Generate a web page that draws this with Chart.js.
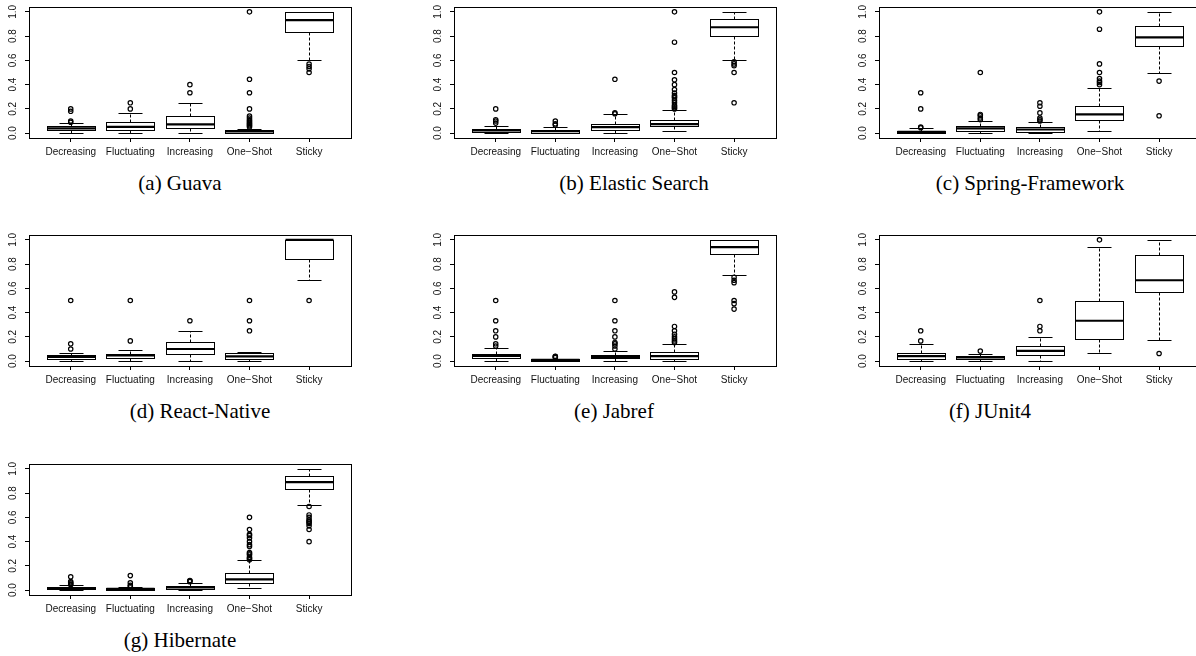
<!DOCTYPE html>
<html>
<head>
<meta charset="utf-8">
<script src="https://cdn.jsdelivr.net/npm/chart.js@4.4.1/dist/chart.umd.min.js"></script>
<style>
  html, body { margin: 0; padding: 0; background: #fff; }
  body { width: 1196px; height: 656px; position: relative; overflow: hidden; }
  canvas { position: absolute; }
  .caption {
    position: absolute;
    font: 21px "Liberation Serif", "Times New Roman", serif;
    line-height: 21px;
    white-space: nowrap;
    transform: translateX(-50%);
    color: #000;
  }
</style>
</head>
<body>
<script>
const categories = ['Decreasing', 'Fluctuating', 'Increasing', 'One\u2212Shot', 'Sticky'];
const yTicks = [0, 0.2, 0.4, 0.6, 0.8, 1.0];

// each row: [lower whisker, q1, median, q3, upper whisker]
const guavaStats = [
  [0.005, 0.025, 0.039, 0.055, 0.083],
  [0.005, 0.025, 0.052, 0.088, 0.165],
  [0.005, 0.039, 0.072, 0.14, 0.25],
  [0, 0.005, 0.014, 0.028, 0.036],
  [0.6, 0.832, 0.931, 1.0, 1.0]
];
const guavaOutliers = [
  [0.09, 0.1, 0.18, 0.2],
  [0.2, 0.25],
  [0.333, 0.4],
  [0.05, 0.06, 0.07, 0.08, 0.09, 0.1, 0.11, 0.125, 0.14, 0.2, 0.333, 0.444, 1.0],
  [0.5, 0.53, 0.55, 0.57]
];

const elasticStats = [
  [0, 0.011, 0.022, 0.036, 0.063],
  [0, 0.005, 0.016, 0.03, 0.053],
  [0.003, 0.022, 0.05, 0.077, 0.154],
  [0.014, 0.055, 0.074, 0.11, 0.187],
  [0.6, 0.8, 0.873, 0.937, 1.0]
];
const elasticOutliers = [
  [0.083, 0.1, 0.111, 0.2],
  [0.067, 0.077, 0.1],
  [0.16, 0.167, 0.444],
  [0.2, 0.21, 0.22, 0.23, 0.25, 0.27, 0.29, 0.3, 0.31, 0.33, 0.36, 0.4, 0.44, 0.5, 0.75, 1.0],
  [0.25, 0.5, 0.556, 0.571, 0.588]
];

const springStats = [
  [0, 0.003, 0.011, 0.019, 0.041],
  [0, 0.019, 0.039, 0.055, 0.1],
  [0, 0.011, 0.03, 0.05, 0.09],
  [0.017, 0.11, 0.154, 0.223, 0.375],
  [0.5, 0.716, 0.79, 0.88, 1.0]
];
const springOutliers = [
  [0.044, 0.05, 0.2, 0.333],
  [0.111, 0.125, 0.143, 0.154, 0.5],
  [0.1, 0.111, 0.125, 0.167, 0.222, 0.25],
  [0.4, 0.417, 0.429, 0.45, 0.5, 0.571, 0.857, 1.0],
  [0.143, 0.429]
];

const reactStats = [
  [0.005, 0.016, 0.036, 0.052, 0.071],
  [0.005, 0.03, 0.047, 0.063, 0.093],
  [0.005, 0.055, 0.1, 0.157, 0.25],
  [0.005, 0.016, 0.04, 0.071, 0.077],
  [0.667, 0.846, 1.0, 1.0, 1.0]
];
const reactOutliers = [
  [0.1, 0.143, 0.5],
  [0.167, 0.5],
  [0.333],
  [0.25, 0.333, 0.5],
  [0.5]
];

const jabrefStats = [
  [0.003, 0.022, 0.044, 0.063, 0.111],
  [0, 0.005, 0.011, 0.016, 0.02],
  [0.003, 0.022, 0.036, 0.052, 0.087],
  [0.003, 0.019, 0.041, 0.074, 0.143],
  [0.714, 0.885, 0.94, 1.0, 1.0]
];
const jabrefOutliers = [
  [0.125, 0.143, 0.2, 0.25, 0.333, 0.5],
  [0.03, 0.037, 0.041],
  [0.1, 0.125, 0.143, 0.154, 0.2, 0.25, 0.333, 0.5],
  [0.154, 0.167, 0.182, 0.2, 0.222, 0.25, 0.286, 0.526, 0.571],
  [0.429, 0.474, 0.5, 0.647, 0.667, 0.692]
];

const junitStats = [
  [0.005, 0.014, 0.041, 0.066, 0.143],
  [0.005, 0.014, 0.03, 0.044, 0.062],
  [0.005, 0.047, 0.085, 0.124, 0.2],
  [0.067, 0.183, 0.333, 0.5, 0.94],
  [0.176, 0.569, 0.667, 0.876, 1.0]
];
const junitOutliers = [
  [0.167, 0.25],
  [0.083],
  [0.25, 0.286, 0.5],
  [1.0],
  [0.063]
];

const hibernateStats = [
  [0, 0.006, 0.017, 0.028, 0.04],
  [0, 0.003, 0.011, 0.02, 0.025],
  [0, 0.008, 0.022, 0.036, 0.06],
  [0.014, 0.063, 0.088, 0.14, 0.245],
  [0.7, 0.837, 0.89, 0.94, 1.0]
];
const hibernateOutliers = [
  [0.045, 0.05, 0.06, 0.07, 0.11],
  [0.03, 0.04, 0.06, 0.12],
  [0.07, 0.075, 0.08],
  [0.25, 0.26, 0.27, 0.29, 0.3, 0.31, 0.36, 0.375, 0.4, 0.43, 0.45, 0.46, 0.5, 0.6],
  [0.4, 0.5, 0.53, 0.55, 0.56, 0.57, 0.58, 0.6, 0.62, 0.69]
];

// plot box position (left, top) of each panel, and caption centre / baseline
const panels = [
  {stats: guavaStats, outliers: guavaOutliers, caption: '(a) Guava', left: 29, top: 7, capX: 180, capY: 190},
  {stats: elasticStats, outliers: elasticOutliers, caption: '(b) Elastic Search', left: 454, top: 7, capX: 634, capY: 190},
  {stats: springStats, outliers: springOutliers, caption: '(c) Spring-Framework', left: 879, top: 7, capX: 1030, capY: 190},
  {stats: reactStats, outliers: reactOutliers, caption: '(d) React-Native', left: 29, top: 235, capX: 200, capY: 418},
  {stats: jabrefStats, outliers: jabrefOutliers, caption: '(e) Jabref', left: 454, top: 235, capX: 614, capY: 418},
  {stats: junitStats, outliers: junitOutliers, caption: '(f) JUnit4', left: 879, top: 235, capX: 990, capY: 418},
  {stats: hibernateStats, outliers: hibernateOutliers, caption: '(g) Hibernate', left: 29, top: 464, capX: 180, capY: 647}
];

const crisp = v => Math.round(v) + 0.5;

// draws the boxes, whiskers and staples from the stats through the chart scales
const boxPlugin = {
  id: 'boxes',
  beforeDatasetsDraw(chart, args, opts) {
    const {ctx, scales: {x, y}} = chart;
    const py = v => crisp(y.getPixelForValue(v));
    ctx.save();
    ctx.strokeStyle = '#000';
    opts.stats.forEach(([lo, q1, med, q3, hi], i) => {
      const cx = crisp(x.getPixelForValue(i + 1));
      const hw = Math.round(x.getPixelForValue(i + 1.4) - x.getPixelForValue(i + 1));
      const sw = Math.round(hw / 2);

      ctx.lineWidth = 1;
      ctx.setLineDash([3, 2]);
      ctx.beginPath();
      ctx.moveTo(cx, py(q3)); ctx.lineTo(cx, py(hi));
      ctx.moveTo(cx, py(q1)); ctx.lineTo(cx, py(lo));
      ctx.stroke();
      ctx.setLineDash([]);

      ctx.beginPath();
      ctx.moveTo(cx - sw, py(hi)); ctx.lineTo(cx + sw, py(hi));
      ctx.moveTo(cx - sw, py(lo)); ctx.lineTo(cx + sw, py(lo));
      ctx.stroke();

      ctx.fillStyle = '#fff';
      ctx.fillRect(cx - hw, py(q3), 2 * hw, py(q1) - py(q3));
      ctx.strokeRect(cx - hw, py(q3), 2 * hw, py(q1) - py(q3));

      ctx.lineWidth = 2.2;
      ctx.beginPath();
      ctx.moveTo(cx - hw, y.getPixelForValue(med));
      ctx.lineTo(cx + hw, y.getPixelForValue(med));
      ctx.stroke();
    });
    ctx.restore();
  }
};

const framePlugin = {
  id: 'frame',
  afterDraw(chart) {
    const {ctx, chartArea: a} = chart;
    ctx.save();
    ctx.strokeStyle = '#000';
    ctx.lineWidth = 1;
    ctx.strokeRect(crisp(a.left), crisp(a.top), Math.round(a.right - a.left), Math.round(a.bottom - a.top));
    ctx.restore();
  }
};

const tickFont = {family: '"Liberation Sans", Arial, sans-serif', size: 10};

function makePanel(p) {
  const canvas = document.createElement('canvas');
  canvas.width = 356;
  canvas.height = 169;
  canvas.style.left = (p.left - 29) + 'px';
  canvas.style.top = (p.top - 12) + 'px';
  document.body.appendChild(canvas);

  const cap = document.createElement('div');
  cap.className = 'caption';
  cap.textContent = p.caption;
  cap.style.left = p.capX + 'px';
  cap.style.top = (p.capY - 17) + 'px';
  document.body.appendChild(cap);

  const points = [];
  p.outliers.forEach((vals, i) => vals.forEach(v => points.push({x: i + 1, y: v})));

  new Chart(canvas, {
    type: 'scatter',
    data: {
      datasets: [{
        data: points,
        pointStyle: 'circle',
        pointRadius: 2.2,
        borderWidth: 1.2,
        borderColor: '#000',
        backgroundColor: 'rgba(0,0,0,0)'
      }]
    },
    options: {
      responsive: false,
      animation: false,
      events: [],
      layout: {padding: {left: 4, top: 12, right: 5, bottom: 2}},
      plugins: {
        legend: {display: false},
        tooltip: {enabled: false},
        boxes: {stats: p.stats}
      },
      scales: {
        x: {
          type: 'linear',
          min: 0.3,
          max: 5.7,
          afterBuildTicks: s => { s.ticks = categories.map((c, i) => ({value: i + 1})); },
          afterFit: s => { s.height = 24; },
          grid: {drawOnChartArea: false, drawTicks: true, tickLength: 4, color: '#000'},
          border: {display: true, color: '#000'},
          ticks: {
            autoSkip: false, maxRotation: 0, padding: 4, color: '#111', font: tickFont,
            callback: v => categories[v - 1]
          }
        },
        y: {
          min: -0.04,
          max: 1.04,
          afterBuildTicks: s => { s.ticks = yTicks.map(v => ({value: v})); },
          afterFit: s => { s.width = 25; },
          grid: {drawOnChartArea: false, drawTicks: true, tickLength: 4, color: '#000'},
          border: {display: true, color: '#000'},
          ticks: {
            minRotation: 90, maxRotation: 90, crossAlign: 'center', padding: 5,
            color: '#111', font: tickFont,
            callback: v => v.toFixed(1)
          }
        }
      }
    },
    plugins: [boxPlugin, framePlugin]
  });
}

panels.forEach(makePanel);
</script>
</body>
</html>
